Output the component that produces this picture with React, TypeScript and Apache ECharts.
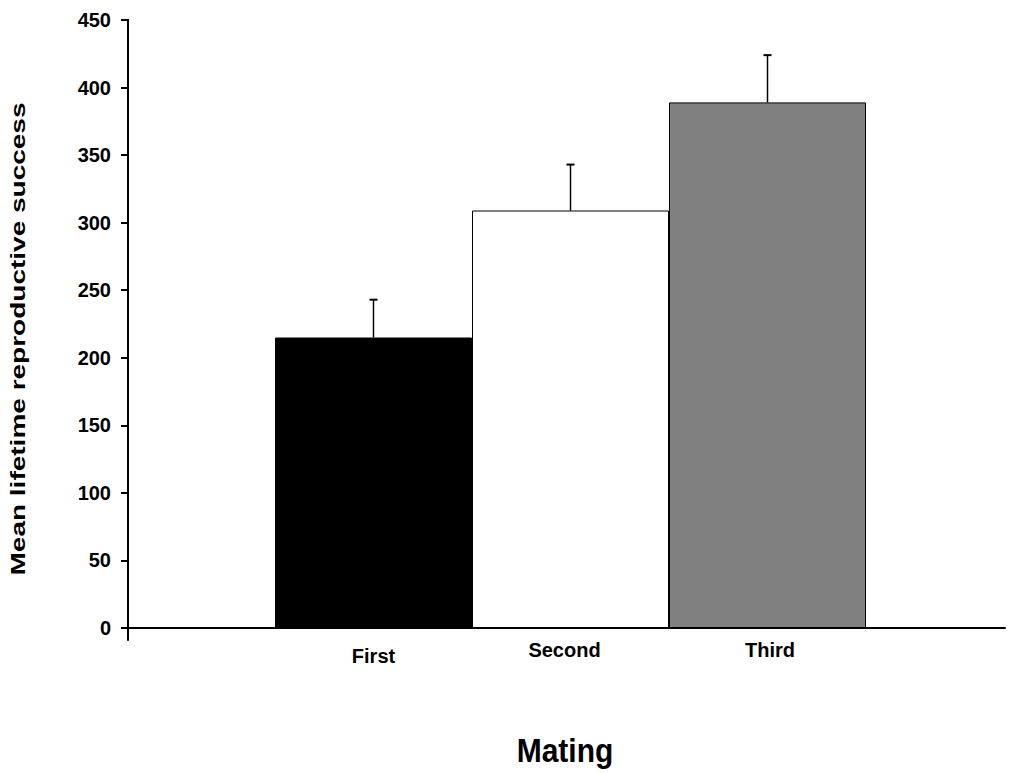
import React, { useEffect, useRef } from "react";
import * as echarts from "echarts";

const categories = ["First", "Second", "Third"];
const means = [215, 309, 389];
const errors = [28, 34, 35];
const barColors = ["#000000", "#ffffff", "#808080"];
const yMin = 0;
const yMax = 450;
const yStep = 50;

const FONT = '"Liberation Sans", Arial, Helvetica, sans-serif';

export default function App() {
  const ref = useRef<HTMLDivElement>(null);
  useEffect(() => {
    if (!ref.current) return;
    const chart = echarts.init(ref.current, null, { renderer: "svg" });
    const labelBase = { fontSize: 20, fontWeight: "bold", fontFamily: FONT, color: "#000" };
    const option: any = {
      animation: false,
      backgroundColor: "#ffffff",
      grid: [
        { left: 275, right: 147, top: 20, bottom: 145 },
        { left: 128, right: 8, top: 20, bottom: 133 },
      ],
      xAxis: [
        {
          type: "category",
          gridIndex: 0,
          data: categories,
          axisLine: { show: false },
          axisTick: { show: false },
          axisLabel: {
            margin: 12,
            formatter: (v: string, idx: number) => `{c${idx}|${v}}`,
            rich: {
              c0: { ...labelBase, padding: [6, 0, 0, 0] },
              c1: { ...labelBase, padding: [0, 12, 0, 0] },
              c2: { ...labelBase, padding: [0, 0, 0, 5] },
            },
          },
          splitLine: { show: false },
        },
        {
          type: "value",
          gridIndex: 1,
          min: 0,
          max: 1,
          axisLine: { show: true, onZero: true, lineStyle: { color: "#000", width: 2 } },
          axisTick: { show: false },
          axisLabel: { show: false },
          splitLine: { show: false },
        },
      ],
      yAxis: [
        {
          type: "value",
          gridIndex: 0,
          min: yMin,
          max: yMax,
          interval: yStep,
          offset: 147,
          axisLine: { show: true, lineStyle: { color: "#000", width: 2 } },
          axisTick: { show: true, length: 7, lineStyle: { color: "#000", width: 2 } },
          axisLabel: { margin: 17, ...labelBase },
          splitLine: { show: false },
        },
        {
          type: "value",
          gridIndex: 1,
          min: -8.9,
          max: yMax,
          axisLine: { show: true, lineStyle: { color: "#000", width: 2 } },
          axisTick: { show: false },
          axisLabel: { show: false },
          splitLine: { show: false },
        },
      ],
      series: [
        {
          type: "bar",
          xAxisIndex: 0,
          yAxisIndex: 0,
          barWidth: "100%",
          data: means.map((m, i) => ({
            value: m,
            itemStyle: { color: barColors[i], borderColor: "#000", borderWidth: 1 },
          })),
        },
        {
          type: "custom",
          xAxisIndex: 0,
          yAxisIndex: 0,
          z: 5,
          encode: { x: 0, y: 1 },
          data: categories.map((_, i) => [i, means[i], errors[i]]),
          renderItem: (params: any, api: any) => {
            const i = api.value(0);
            const m = api.value(1);
            const e = api.value(2);
            const base = api.coord([i, m]);
            const top = api.coord([i, m + e]);
            return {
              type: "group",
              children: [
                {
                  type: "line",
                  shape: { x1: base[0], y1: base[1], x2: top[0], y2: top[1] },
                  style: { stroke: "#000", lineWidth: 1.5 },
                },
                {
                  type: "line",
                  shape: { x1: top[0] - 4, y1: top[1], x2: top[0] + 4, y2: top[1] },
                  style: { stroke: "#000", lineWidth: 2 },
                },
              ],
            };
          },
        },
      ],
      graphic: [
        {
          type: "text",
          x: 565,
          y: 750,
          scaleY: 1.1,
          style: {
            text: "Mating",
            font: `bold 30px ${FONT}`,
            fill: "#000",
            textAlign: "center",
            textVerticalAlign: "middle",
          },
        },
        {
          type: "text",
          x: 18,
          y: 339,
          rotation: Math.PI / 2,
          scaleX: 1.4,
          style: {
            text: "Mean lifetime reproductive success",
            font: `bold 20px ${FONT}`,
            fill: "#000",
            textAlign: "center",
            textVerticalAlign: "middle",
          },
        },
      ],
    };
    chart.setOption(option);
    return () => chart.dispose();
  }, []);
  return (
    <div
      ref={ref}
      style={{ position: "fixed", left: 0, top: 0, width: 1013, height: 773 }}
    />
  );
}
